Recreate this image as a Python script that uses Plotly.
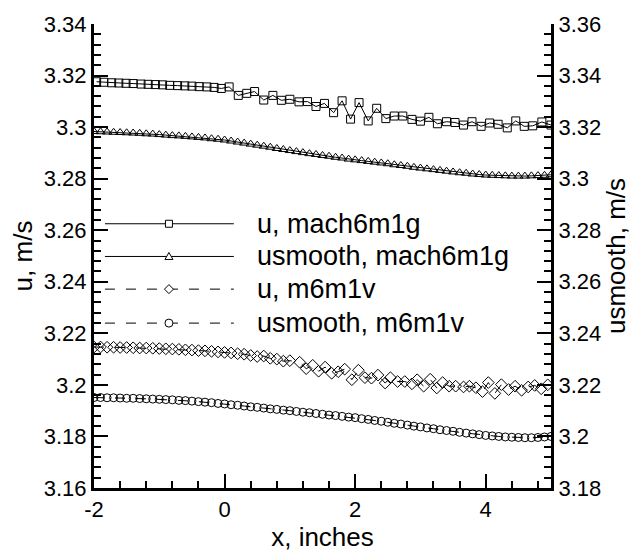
import plotly.graph_objects as go

# ---- data -------------------------------------------------------------
# u, mach6m1g (left axis)
x_u_g = [-1.96, -1.85, -1.73, -1.62, -1.51, -1.40, -1.28, -1.17, -1.06, -0.95,
         -0.84, -0.72, -0.61, -0.50, -0.39, -0.27, -0.16, -0.05, 0.07, 0.21,
         0.34, 0.46, 0.60, 0.74, 0.87, 1.00, 1.14, 1.27, 1.40, 1.53,
         1.67, 1.80, 1.93, 2.06, 2.20, 2.33, 2.47, 2.60, 2.73, 2.87,
         3.00, 3.13, 3.26, 3.40, 3.53, 3.66, 3.79, 3.93, 4.06, 4.19,
         4.33, 4.46, 4.59, 4.72, 4.86, 5.00]
u_g = [3.3176, 3.3174, 3.3172, 3.3171, 3.3170, 3.3169, 3.3167, 3.3166, 3.3165, 3.3164,
       3.3162, 3.3161, 3.3160, 3.3159, 3.3157, 3.3156, 3.3154, 3.3150, 3.3156, 3.3123,
       3.3131, 3.3138, 3.3105, 3.3123, 3.3104, 3.3108, 3.3098, 3.3099, 3.3080, 3.3092,
       3.3056, 3.3102, 3.3031, 3.3095, 3.3024, 3.3073, 3.3033, 3.3043, 3.3043, 3.3030,
       3.3023, 3.3038, 3.3013, 3.3021, 3.3018, 3.3008, 3.3021, 3.3003, 3.3016, 3.3011,
       3.2997, 3.3024, 3.3003, 3.3005, 3.3020, 3.3008]

# stations shared by the smoothed profiles
x_s = [round(-2.0 + 0.1 * i, 1) for i in range(71)]

# usmooth, mach6m1g (right axis)
us_g = [3.3183, 3.3182, 3.3181, 3.3180, 3.3179, 3.3178, 3.3177, 3.3176, 3.3174, 3.3173, 3.3171,
        3.3169, 3.3167, 3.3166, 3.3164, 3.3162, 3.3160, 3.3158, 3.3155, 3.3153, 3.3150,
        3.3146, 3.3142, 3.3138, 3.3134, 3.3130, 3.3126, 3.3122, 3.3117, 3.3113, 3.3109,
        3.3105, 3.3101, 3.3097, 3.3094, 3.3090, 3.3087, 3.3083, 3.3080, 3.3076, 3.3073,
        3.3070, 3.3067, 3.3064, 3.3061, 3.3058, 3.3054, 3.3051, 3.3048, 3.3044, 3.3041,
        3.3038, 3.3035, 3.3032, 3.3029, 3.3026, 3.3023, 3.3021, 3.3018, 3.3016, 3.3014,
        3.3013, 3.3012, 3.3011, 3.3010, 3.3010, 3.3010, 3.3011, 3.3012, 3.3013, 3.3015]

# u, m6m1v (left axis)
x_u_v = [-2.0, -1.9, -1.8, -1.7, -1.6, -1.5, -1.4, -1.3, -1.2, -1.1, -1.0,
         -0.9, -0.8, -0.7, -0.6, -0.5, -0.4, -0.3, -0.2, -0.1, 0.0,
         0.1, 0.2, 0.3, 0.4, 0.5, 0.6, 0.7, 0.8, 0.9, 1.0,
         1.15, 1.25, 1.35, 1.44, 1.54, 1.64, 1.74, 1.84, 1.95, 2.05,
         2.15, 2.25, 2.35, 2.46, 2.54, 2.65, 2.76, 2.87, 2.95, 3.05,
         3.15, 3.25, 3.34, 3.44, 3.54, 3.66, 3.75, 3.85, 3.95, 4.04,
         4.14, 4.24, 4.35, 4.45, 4.55, 4.65, 4.75, 4.85, 4.95]
u_v = [3.2147, 3.2147, 3.2146, 3.2146, 3.2145, 3.2145, 3.2144, 3.2143, 3.2143, 3.2142, 3.2141,
       3.2140, 3.2139, 3.2138, 3.2136, 3.2135, 3.2133, 3.2132, 3.2130, 3.2128, 3.2126,
       3.2124, 3.2121, 3.2119, 3.2114, 3.2110, 3.2112, 3.2103, 3.2100, 3.2092, 3.2094,
       3.2088, 3.2063, 3.2076, 3.2053, 3.2069, 3.2045, 3.2051, 3.2061, 3.2020, 3.2057,
       3.2028, 3.2026, 3.2038, 3.2007, 3.2028, 3.2013, 3.2013, 3.2004, 3.2020, 3.1995,
       3.2022, 3.1988, 3.2009, 3.1995, 3.1995, 3.1992, 3.1995, 3.1989, 3.1974, 3.2009,
       3.1967, 3.2001, 3.1982, 3.1995, 3.1979, 3.1992, 3.1998, 3.1985, 3.2000]

# usmooth, m6m1v (right axis)
us_v = [3.2151, 3.2151, 3.2150, 3.2150, 3.2149, 3.2148, 3.2148, 3.2147, 3.2146, 3.2145, 3.2144,
        3.2143, 3.2142, 3.2140, 3.2139, 3.2137, 3.2135, 3.2133, 3.2131, 3.2128, 3.2126,
        3.2123, 3.2121, 3.2118, 3.2115, 3.2113, 3.2110, 3.2107, 3.2105, 3.2102, 3.2100,
        3.2097, 3.2094, 3.2092, 3.2089, 3.2086, 3.2083, 3.2081, 3.2078, 3.2075, 3.2073,
        3.2069, 3.2066, 3.2062, 3.2059, 3.2055, 3.2051, 3.2048, 3.2044, 3.2040, 3.2037,
        3.2033, 3.2030, 3.2026, 3.2023, 3.2020, 3.2016, 3.2013, 3.2010, 3.2007, 3.2004,
        3.2002, 3.2000, 3.1998, 3.1997, 3.1996, 3.1995, 3.1995, 3.1996, 3.1998, 3.2000]

series_names = ["u, mach6m1g", "usmooth, mach6m1g", "u, m6m1v", "usmooth, m6m1v"]

x_tick_vals = [-2, 0, 2, 4]
x_tick_text = ["-2", "0", "2", "4"]
yl_tick_vals = [3.16, 3.18, 3.20, 3.22, 3.24, 3.26, 3.28, 3.30, 3.32, 3.34]
yl_tick_text = ["3.16", "3.18", "3.2", "3.22", "3.24", "3.26", "3.28", "3.3", "3.32", "3.34"]
yr_tick_vals = [3.18, 3.20, 3.22, 3.24, 3.26, 3.28, 3.30, 3.32, 3.34, 3.36]
yr_tick_text = ["3.18", "3.2", "3.22", "3.24", "3.26", "3.28", "3.3", "3.32", "3.34", "3.36"]

# ---- styling ----------------------------------------------------------
FONT = "Liberation Sans, Arial, Helvetica, sans-serif"
BLACK = "#000000"
DASH = "10px,11px"

fig = go.Figure()

fig.add_trace(go.Scatter(
    x=x_u_g, y=u_g, name=series_names[0], mode="lines+markers",
    line=dict(color=BLACK, width=1),
    marker=dict(symbol="square-open", size=8, color=BLACK, line=dict(width=1)),
    yaxis="y"))
fig.add_trace(go.Scatter(
    x=x_s, y=us_g, name=series_names[1], mode="lines+markers",
    line=dict(color=BLACK, width=1),
    marker=dict(symbol="triangle-up-open", size=8, color=BLACK, line=dict(width=1)),
    yaxis="y2"))
fig.add_trace(go.Scatter(
    x=x_u_v, y=u_v, name=series_names[2], mode="lines+markers",
    line=dict(color=BLACK, width=1, dash=DASH),
    marker=dict(symbol="diamond-open", size=9, color=BLACK, line=dict(width=1)),
    yaxis="y"))
fig.add_trace(go.Scatter(
    x=x_s, y=us_v, name=series_names[3], mode="lines+markers",
    line=dict(color=BLACK, width=1, dash=DASH),
    marker=dict(symbol="circle-open", size=8, color=BLACK, line=dict(width=1)),
    yaxis="y2"))

# ---- hand-drawn legend inside the frame ------------------------------
leg_rows = [0.5695, 0.499, 0.4286, 0.3554]
leg_x0, leg_x1, leg_xm, leg_xt = 0.024, 0.306, 0.164, 0.352
leg_dash = ["solid", "solid", DASH, DASH]
half = 3.5
leg_marks = [
    dict(type="rect", x0=-half, x1=half, y0=-half, y1=half),
    dict(type="path", path="M-4,-3 L4,-3 L0,4 Z"),
    dict(type="path", path="M0,-4.5 L4.5,0 L0,4.5 L-4.5,0 Z"),
    dict(type="circle", x0=-4, x1=4, y0=-4, y1=4),
]
shapes = []
annotations = []
for name, yr, dsh, mk in zip(series_names, leg_rows, leg_dash, leg_marks):
    shapes.append(dict(type="line", xref="paper", yref="paper",
                       x0=leg_x0, x1=leg_x1, y0=yr, y1=yr,
                       line=dict(color=BLACK, width=1, dash=dsh)))
    m = dict(mk)
    m.update(xref="paper", yref="paper", xsizemode="pixel", ysizemode="pixel",
             xanchor=leg_xm, yanchor=yr, fillcolor="white",
             line=dict(color=BLACK, width=1))
    shapes.append(m)
    annotations.append(dict(text=name, xref="paper", yref="paper",
                            x=leg_xt, y=yr, xanchor="left", yanchor="middle",
                            showarrow=False, font=dict(size=27, color=BLACK, family=FONT)))

axis_common = dict(
    showline=True, linecolor=BLACK, linewidth=3,
    ticks="inside", ticklen=14, tickwidth=2, tickcolor=BLACK,
    showgrid=False, zeroline=False,
    tickfont=dict(size=22, color=BLACK, family=FONT),
)

fig.update_layout(
    width=632, height=555,
    margin=dict(l=94, r=81, t=15, b=58),
    paper_bgcolor="white", plot_bgcolor="white",
    showlegend=False,
    font=dict(family=FONT, color=BLACK),
    xaxis=dict(range=[-2, 5], tickmode="array", tickvals=x_tick_vals, ticktext=x_tick_text,
               minor=dict(tickmode="linear", tick0=-2, dtick=0.4, ticks="inside",
                          ticklen=7, tickwidth=1.5, tickcolor=BLACK),
               title=dict(text="x, inches", font=dict(size=26, color=BLACK, family=FONT), standoff=2),
               **axis_common),
    yaxis=dict(range=[3.16, 3.34], tickmode="array", tickvals=yl_tick_vals, ticktext=yl_tick_text,
               minor=dict(tickmode="linear", tick0=3.16, dtick=0.004, ticks="inside",
                          ticklen=7, tickwidth=1.5, tickcolor=BLACK),
               title=dict(text="u, m/s", font=dict(size=26, color=BLACK, family=FONT), standoff=4),
               **axis_common),
    yaxis2=dict(range=[3.18, 3.36], overlaying="y", side="right",
                tickmode="array", tickvals=yr_tick_vals, ticktext=yr_tick_text,
                minor=dict(tickmode="linear", tick0=3.18, dtick=0.004, ticks="inside",
                           ticklen=7, tickwidth=1.5, tickcolor=BLACK),
                title=dict(text="usmooth, m/s", font=dict(size=26, color=BLACK, family=FONT), standoff=0),
                **axis_common),
    shapes=shapes,
    annotations=annotations,
)

fig.write_html("out.html")
